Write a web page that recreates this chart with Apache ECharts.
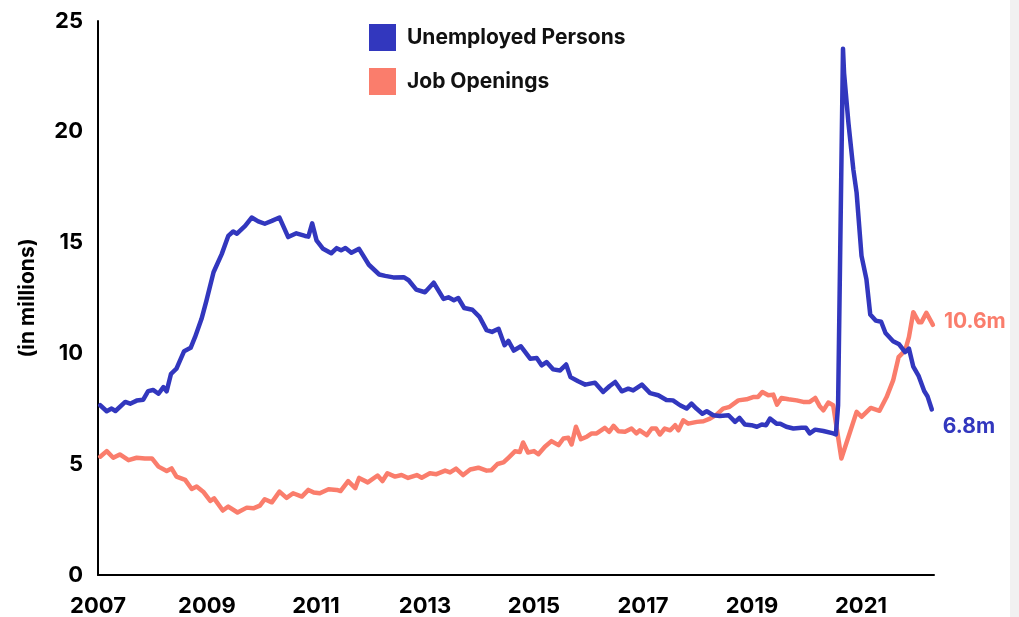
<!DOCTYPE html>
<html>
<head>
<meta charset="utf-8">
<script src="https://cdn.jsdelivr.net/npm/echarts@6/dist/echarts.min.js"></script>
<style>
  html, body { margin: 0; padding: 0; background: #ffffff; }
  #chart { width: 1019px; height: 617px; }
</style>
</head>
<body>
<div id="chart"></div>
<script>
// ---- Data (decimal year, millions) ----
const unemployedYears = [2007.04,2007.16,2007.25,2007.32,2007.50,2007.59,2007.71,2007.83,2007.92,2008.01,2008.11,2008.20,2008.26,2008.34,2008.44,2008.58,2008.70,2008.78,2008.90,2008.99,2009.12,2009.27,2009.39,2009.48,2009.55,2009.70,2009.82,2009.94,2010.06,2010.19,2010.33,2010.49,2010.64,2010.80,2010.86,2010.93,2011.01,2011.13,2011.28,2011.38,2011.46,2011.54,2011.65,2011.79,2011.97,2012.16,2012.27,2012.42,2012.61,2012.70,2012.84,2013.00,2013.16,2013.34,2013.43,2013.53,2013.61,2013.72,2013.87,2014.00,2014.13,2014.23,2014.35,2014.46,2014.53,2014.63,2014.76,2014.93,2015.05,2015.14,2015.23,2015.35,2015.48,2015.59,2015.67,2015.81,2015.94,2016.12,2016.27,2016.39,2016.49,2016.61,2016.73,2016.82,2016.98,2017.13,2017.28,2017.43,2017.55,2017.68,2017.80,2017.89,2017.98,2018.09,2018.17,2018.29,2018.41,2018.57,2018.69,2018.77,2018.87,2018.99,2019.09,2019.18,2019.26,2019.33,2019.45,2019.52,2019.63,2019.76,2019.91,2019.99,2020.06,2020.16,2020.31,2020.49,2020.54,2020.58,2020.67,2020.69,2020.77,2020.86,2020.92,2021.01,2021.10,2021.17,2021.27,2021.37,2021.45,2021.59,2021.70,2021.81,2021.88,2021.96,2022.06,2022.16,2022.22,2022.30];
const unemployedValues = [7.66,7.39,7.51,7.40,7.81,7.73,7.87,7.91,8.30,8.35,8.18,8.48,8.29,9.08,9.31,10.10,10.25,10.73,11.56,12.38,13.66,14.48,15.30,15.50,15.40,15.75,16.13,15.96,15.85,15.98,16.13,15.25,15.42,15.30,15.27,15.87,15.10,14.72,14.52,14.75,14.65,14.76,14.54,14.72,14.00,13.56,13.50,13.43,13.44,13.30,12.88,12.76,13.19,12.46,12.53,12.40,12.50,12.05,11.97,11.65,11.05,10.97,11.11,10.37,10.56,10.13,10.32,9.76,9.79,9.46,9.61,9.28,9.23,9.50,8.93,8.74,8.59,8.68,8.26,8.53,8.71,8.29,8.41,8.33,8.59,8.21,8.11,7.90,7.88,7.66,7.51,7.73,7.51,7.28,7.39,7.21,7.18,7.21,6.91,7.09,6.79,6.76,6.69,6.79,6.76,7.06,6.83,6.83,6.69,6.61,6.64,6.64,6.39,6.56,6.50,6.39,6.34,7.66,23.75,22.65,20.40,18.30,17.25,14.40,13.35,11.76,11.48,11.43,10.92,10.55,10.41,10.06,10.22,9.40,8.97,8.30,8.07,7.47];

const openingsYears = [2007.04,2007.16,2007.28,2007.40,2007.56,2007.71,2007.86,2007.99,2008.11,2008.26,2008.35,2008.44,2008.60,2008.72,2008.81,2008.93,2009.06,2009.13,2009.29,2009.39,2009.56,2009.73,2009.85,2009.97,2010.06,2010.19,2010.33,2010.46,2010.58,2010.74,2010.86,2010.96,2011.07,2011.23,2011.38,2011.45,2011.59,2011.72,2011.79,2011.95,2012.13,2012.22,2012.31,2012.45,2012.57,2012.69,2012.85,2012.94,2013.09,2013.21,2013.37,2013.46,2013.57,2013.70,2013.83,2013.98,2014.13,2014.22,2014.33,2014.44,2014.53,2014.65,2014.74,2014.80,2014.89,2015.00,2015.08,2015.20,2015.32,2015.45,2015.54,2015.63,2015.69,2015.77,2015.86,2015.97,2016.06,2016.15,2016.30,2016.38,2016.46,2016.55,2016.67,2016.79,2016.88,2016.94,2017.07,2017.16,2017.24,2017.31,2017.40,2017.50,2017.59,2017.65,2017.74,2017.83,2017.99,2018.11,2018.23,2018.35,2018.47,2018.59,2018.75,2018.90,2019.02,2019.11,2019.19,2019.30,2019.39,2019.46,2019.54,2019.67,2019.82,2019.94,2020.06,2020.16,2020.24,2020.31,2020.40,2020.49,2020.64,2020.92,2021.01,2021.18,2021.34,2021.47,2021.59,2021.69,2021.81,2021.88,2021.96,2022.06,2022.11,2022.20,2022.32];
const openingsValues = [5.34,5.59,5.29,5.44,5.18,5.29,5.26,5.26,4.89,4.69,4.81,4.44,4.29,3.88,3.99,3.76,3.34,3.46,2.91,3.09,2.82,3.04,3.01,3.13,3.42,3.28,3.76,3.48,3.69,3.54,3.84,3.72,3.69,3.87,3.84,3.79,4.24,3.92,4.38,4.18,4.49,4.24,4.59,4.44,4.51,4.38,4.51,4.39,4.59,4.55,4.71,4.63,4.80,4.51,4.76,4.84,4.71,4.73,5.01,5.08,5.29,5.58,5.55,5.98,5.53,5.59,5.45,5.79,6.04,5.86,6.16,6.19,5.89,6.69,6.13,6.24,6.39,6.39,6.64,6.46,6.73,6.49,6.46,6.61,6.39,6.53,6.31,6.61,6.61,6.34,6.61,6.53,6.76,6.53,6.98,6.83,6.91,6.94,7.06,7.24,7.51,7.59,7.88,7.93,8.03,8.03,8.26,8.11,8.14,7.69,7.99,7.93,7.88,7.81,7.81,7.99,7.63,7.43,7.78,7.66,5.26,7.36,7.14,7.54,7.41,8.03,8.78,9.83,10.13,10.73,11.86,11.41,11.41,11.83,11.29];

const seriesNames = ['Unemployed Persons', 'Job Openings'];
const endLabels = ['6.8m', '10.6m'];
const yTicks = [0, 5, 10, 15, 20, 25];
const xTickStart = 2007, xTickStep = 2;

const BLUE = '#3237BE';
const SALMON = '#FA7D6C';
const FONT = 'Inter, "Liberation Sans", sans-serif';

const zip = (xs, ys) => xs.map((x, i) => [x, ys[i]]);

const chart = echarts.init(document.getElementById('chart'), null, { renderer: 'canvas' });
chart.setOption({
  animation: false,
  backgroundColor: '#ffffff',
  grid: { left: 98, right: 85, top: 21, bottom: 40, containLabel: false },
  legend: {
    orient: 'vertical',
    left: 364,
    top: 19,
    itemWidth: 27,
    itemHeight: 27,
    itemGap: 17,
    icon: 'rect',
    textStyle: { fontFamily: FONT, fontWeight: 700, fontSize: 21, color: '#111111', padding: [0, 0, 0, 6] },
    data: seriesNames
  },
  xAxis: {
    type: 'value',
    min: xTickStart,
    max: 2022.34,
    interval: xTickStep,
    axisLine: { show: true, lineStyle: { color: '#000000', width: 2 } },
    axisTick: { show: false },
    splitLine: { show: false },
    axisLabel: {
      margin: 20,
      showMaxLabel: false,
      fontFamily: FONT, fontWeight: 700, fontSize: 22, color: '#000000',
      formatter: v => (Number.isInteger(v) ? String(v) : '')
    }
  },
  yAxis: {
    type: 'value',
    min: yTicks[0],
    max: yTicks[yTicks.length - 1],
    interval: yTicks[1] - yTicks[0],
    name: '(in millions)',
    nameLocation: 'middle',
    nameGap: 60,
    nameTextStyle: { fontFamily: FONT, fontWeight: 700, fontSize: 21, color: '#000000' },
    axisLine: { show: true, lineStyle: { color: '#000000', width: 2 } },
    axisTick: { show: false },
    splitLine: { show: false },
    axisLabel: { margin: 15, fontFamily: FONT, fontWeight: 700, fontSize: 22, color: '#000000' }
  },
  series: [
    {
      name: seriesNames[0],
      type: 'line',
      data: zip(unemployedYears, unemployedValues),
      showSymbol: false,
      symbol: 'none',
      color: BLUE,
      lineStyle: { color: BLUE, width: 4.5, join: 'round', cap: 'round' },
      endLabel: {
        show: true,
        formatter: endLabels[0],
        color: BLUE,
        fontFamily: FONT, fontWeight: 700, fontSize: 21,
        offset: [3, 17]
      },
      z: 3
    },
    {
      name: seriesNames[1],
      type: 'line',
      data: zip(openingsYears, openingsValues),
      showSymbol: false,
      symbol: 'none',
      color: SALMON,
      lineStyle: { color: SALMON, width: 4.5, join: 'round', cap: 'round' },
      endLabel: {
        show: true,
        formatter: endLabels[1],
        color: SALMON,
        fontFamily: FONT, fontWeight: 700, fontSize: 21,
        offset: [3, -3]
      },
      z: 2
    }
  ],
  graphic: [
    { type: 'rect', right: 0, top: 0, shape: { width: 9, height: 617 }, style: { fill: '#f1f1f1' }, silent: true }
  ]
});
</script>
</body>
</html>
